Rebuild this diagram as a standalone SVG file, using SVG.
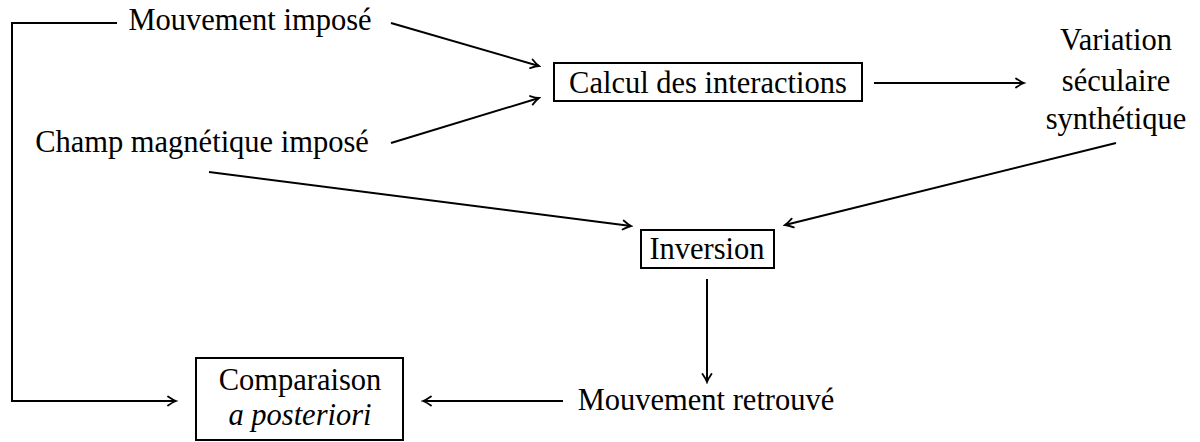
<svg xmlns="http://www.w3.org/2000/svg" width="1200" height="442" viewBox="0 0 1200 442">
<style>
.t{font-family:'Liberation Serif','Times New Roman',serif;font-size:30.5px;fill:#000;text-anchor:middle}
.it{font-style:italic}
.box{fill:none;stroke:#000;stroke-width:2}
.c{fill:none;stroke:#000;stroke-width:2}
</style>
<defs>
<marker id="ah" viewBox="-10 -6 12 12" refX="0" refY="0" markerWidth="12" markerHeight="12" markerUnits="userSpaceOnUse" orient="auto">
<path d="M-8,-4.5 Q-3,-1 0,0 Q-3,1 -8,4.5" fill="none" stroke="#000" stroke-width="1.8" stroke-linecap="round"/>
</marker>
</defs>
<rect width="1200" height="442" fill="#fff"/>
<g id="connectors">
<polyline class="c" points="117,23 12,23 12,401 176,401" marker-end="url(#ah)"/>
<line class="c" x1="391" y1="23" x2="539" y2="66" marker-end="url(#ah)"/>
<line class="c" x1="391" y1="143" x2="539" y2="98" marker-end="url(#ah)"/>
<line class="c" x1="874" y1="83" x2="1024" y2="83" marker-end="url(#ah)"/>
<line class="c" x1="1116" y1="143" x2="785" y2="225" marker-end="url(#ah)"/>
<line class="c" x1="209" y1="172" x2="631" y2="226" marker-end="url(#ah)"/>
<line class="c" x1="707" y1="279" x2="707" y2="382" marker-end="url(#ah)"/>
<line class="c" x1="563" y1="401" x2="423" y2="401" marker-end="url(#ah)"/>
</g>
<g font-family="Liberation Serif, serif">
<g id="mouvement-impose"><text class="t" x="250" y="30">Mouvement imposé</text></g>
<g id="champ-impose"><text class="t" x="202" y="152">Champ magnétique imposé</text></g>
<g id="calcul"><rect class="box" x="554" y="63" width="308" height="38"/><text class="t" x="708" y="93">Calcul des interactions</text></g>
<g id="variation"><text class="t" x="1116" y="50">Variation</text><text class="t" x="1116" y="91">séculaire</text><text class="t" x="1116" y="129">synthétique</text></g>
<g id="inversion"><rect class="box" x="641" y="230" width="133" height="38"/><text class="t" x="707" y="259">Inversion</text></g>
<g id="mouvement-retrouve"><text class="t" x="706" y="410">Mouvement retrouvé</text></g>
<g id="comparaison"><rect class="box" x="196" y="358" width="207" height="82"/><text class="t" x="300" y="390">Comparaison</text><text class="t it" x="300" y="425">a posteriori</text></g>
</g>
</svg>
